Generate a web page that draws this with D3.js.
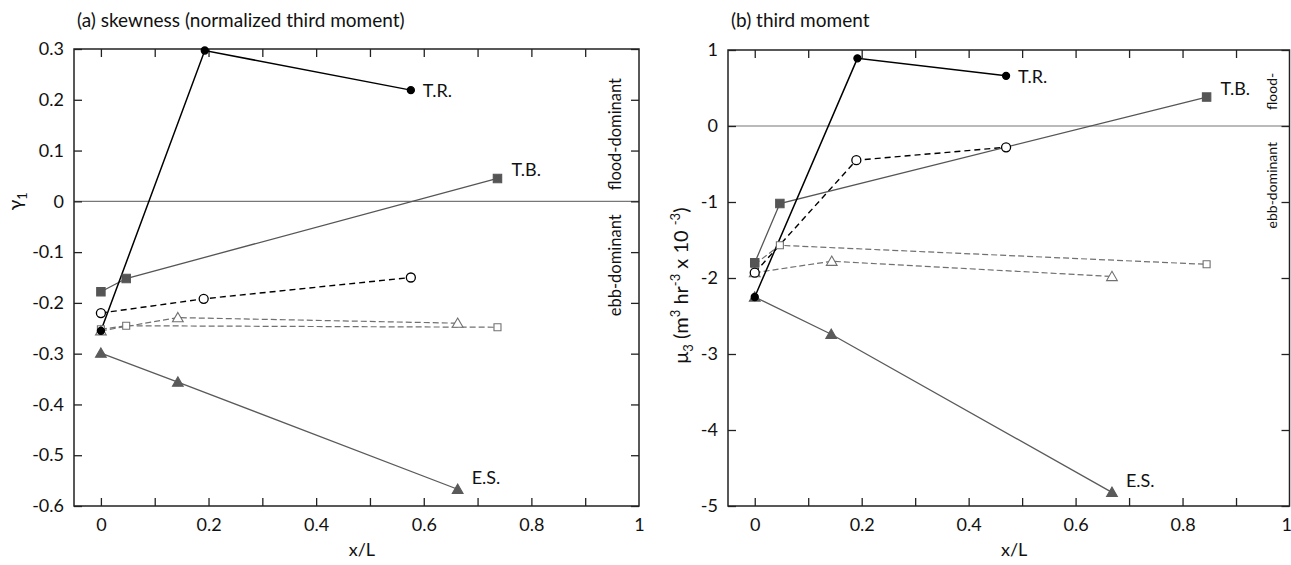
<!DOCTYPE html>
<html>
<head>
<meta charset="utf-8">
<script src="https://unpkg.com/d3@7/dist/d3.min.js"></script>
<style>
  body { margin: 0; background: #fff; }
  svg { display: block; font-family: Lato, "Open Sans", sans-serif; }
</style>
</head>
<body>
<script>
// station positions along the estuary (x/L) and values
// panel (a): skewness
const skewTR = [[0, -0.255], [0.193, 0.297], [0.576, 0.219]];
const skewTB = [[0, -0.178], [0.047, -0.152], [0.737, 0.045]];
const skewES = [[0, -0.299], [0.143, -0.356], [0.663, -0.567]];
const skewCircle = [[0, -0.220], [0.191, -0.192], [0.576, -0.150]];
const skewTri = [[0, -0.255], [0.143, -0.229], [0.663, -0.240]];
const skewSq = [[0, -0.252], [0.047, -0.245], [0.737, -0.248]];

// panel (b): third moment
const momTR = [[0, -2.25], [0.192, 0.89], [0.47, 0.66]];
const momTB = [[0, -1.80], [0.047, -1.02], [0.845, 0.38]];
const momES = [[0, -2.25], [0.143, -2.74], [0.668, -4.82]];
const momCircle = [[0, -1.93], [0.19, -0.45], [0.47, -0.28]];
const momTri = [[0, -1.93], [0.144, -1.78], [0.668, -1.98]];
const momSq = [[0, -1.82], [0.047, -1.57], [0.845, -1.82]];

const xTicks = [0, 0.1, 0.2, 0.3, 0.4, 0.5, 0.6, 0.7, 0.8, 0.9];
const xLabels = [0, 0.2, 0.4, 0.6, 0.8, 1];
const skewTicks = [0.3, 0.2, 0.1, 0, -0.1, -0.2, -0.3, -0.4, -0.5, -0.6];
const momTicks = [1, 0, -1, -2, -3, -4, -5];

const W = 1291, H = 565;
const svg = d3.select("body").append("svg").attr("width", W).attr("height", H);

// series styles
const styles = {
  TR: { stroke: "#000", width: 1.5, dash: null, mark: "circle", fill: "#000", r: 3.5 },
  TB: { stroke: "#555", width: 1.3, dash: null, mark: "square", fill: "#555", r: 4.2 },
  ES: { stroke: "#5a5a5a", width: 1.3, dash: null, mark: "triangle", fill: "#5a5a5a", r: 0 },
  circle: { stroke: "#000", width: 1.4, dash: "6,4", mark: "circle", fill: "#fff", r: 4.5 },
  tri: { stroke: "#707070", width: 1.2, dash: "6,3", mark: "triangle", fill: "#fff", r: 0 },
  sq: { stroke: "#707070", width: 1.2, dash: "6,3", mark: "square", fill: "#fff", r: 3.5 }
};

const fmt = (d) => String(+d.toFixed(2)).replace("\u2212", "-");

function panel(opt) {
  const x = d3.scaleLinear().domain([-0.05, 1.0]).range(opt.xr);
  const y = d3.scaleLinear().domain(opt.yd).range(opt.yr);
  const g = svg.append("g");

  // zero line
  g.append("line")
    .attr("x1", opt.xr[0]).attr("x2", opt.xr[1])
    .attr("y1", y(0)).attr("y2", y(0))
    .attr("stroke", "#777").attr("stroke-width", 1.2);

  // axes with inward ticks
  g.append("g")
    .attr("transform", `translate(0,${opt.yr[0]})`)
    .call(d3.axisBottom(x).tickValues(xTicks).tickSize(-8).tickFormat(""));
  const xl = g.append("g")
    .attr("transform", `translate(0,${opt.yr[0]})`)
    .call(d3.axisBottom(x).tickValues(xLabels).tickSize(0).tickPadding(12).tickFormat(fmt));
  if (opt.xr[1] > W - 5) {
    // keep the last label inside the page
    xl.selectAll(".tick text").filter((d) => d === 1).attr("text-anchor", "end").attr("dx", 2);
  }
  g.append("g")
    .attr("transform", `translate(0,${opt.yr[1]})`)
    .call(d3.axisTop(x).tickValues(xTicks).tickSize(-8).tickFormat(""));
  g.append("g")
    .attr("transform", `translate(${opt.xr[0]},0)`)
    .call(d3.axisLeft(y).tickValues(opt.yTicks).tickSize(-8).tickPadding(10).tickFormat(fmt));
  g.append("g")
    .attr("transform", `translate(${opt.xr[1]},0)`)
    .call(d3.axisRight(y).tickValues(opt.yTicks).tickSize(-8).tickFormat(""));

  g.selectAll(".domain").remove();
  g.selectAll(".tick line").attr("stroke", "#222").attr("stroke-width", 1.3);
  g.selectAll(".tick text").attr("font-size", 18).attr("fill", "#111")
    .attr("font-family", "Lato, sans-serif");

  g.append("rect")
    .attr("x", opt.xr[0]).attr("y", opt.yr[1])
    .attr("width", opt.xr[1] - opt.xr[0]).attr("height", opt.yr[0] - opt.yr[1])
    .attr("fill", "none").attr("stroke", "#222").attr("stroke-width", 1.5);

  const line = d3.line().x((d) => x(d[0])).y((d) => y(d[1]));

  // draw order: dashed first, solid on top
  const order = ["sq", "tri", "circle", "ES", "TB", "TR"];
  order.forEach((k) => {
    const s = styles[k];
    g.append("path").datum(opt.series[k]).attr("d", line)
      .attr("fill", "none").attr("stroke", s.stroke)
      .attr("stroke-width", s.width)
      .attr("stroke-dasharray", s.dash);
  });
  order.forEach((k) => {
    const s = styles[k];
    const sym = s.mark === "circle" ? null
      : d3.symbol().type(s.mark === "square" ? d3.symbolSquare : d3.symbolTriangle)
          .size(s.mark === "square" ? (2 * s.r) * (2 * s.r) : 50);
    opt.series[k].forEach((d) => {
      if (s.mark === "circle") {
        g.append("circle").attr("cx", x(d[0])).attr("cy", y(d[1])).attr("r", s.r)
          .attr("fill", s.fill).attr("stroke", s.stroke).attr("stroke-width", 1.3);
      } else {
        g.append("path").attr("d", sym)
          .attr("transform", `translate(${x(d[0])},${y(d[1]) + (s.mark === "triangle" ? 1 : 0)})`)
          .attr("fill", s.fill).attr("stroke", s.stroke).attr("stroke-width", 1.1);
      }
    });
  });

  // station labels next to the last point
  [["TR", "T.R.", 12, 7], ["TB", "T.B.", 14, -2], ["ES", "E.S.", 14, -5]].forEach(([k, t, dx, dy]) => {
    const last = opt.series[k][opt.series[k].length - 1];
    g.append("text").attr("x", x(last[0]) + dx).attr("y", y(last[1]) + dy)
      .attr("font-size", 18).attr("fill", "#111").text(t);
  });

  // x-axis title
  g.append("text")
    .attr("x", x(0.5) - 8).attr("y", 556)
    .attr("text-anchor", "middle").attr("font-size", 18).attr("fill", "#111")
    .text("x/L");

  // panel title
  g.append("text").attr("x", opt.xr[0] + 3).attr("y", 27)
    .attr("font-size", 19).attr("fill", "#111").text(opt.title);

  return { x, y, g };
}

const a = panel({
  xr: [74, 639], yd: [-0.6, 0.3], yr: [506, 49], yTicks: skewTicks,
  title: "(a) skewness (normalized third moment)",
  series: { TR: skewTR, TB: skewTB, ES: skewES, circle: skewCircle, tri: skewTri, sq: skewSq }
});

const b = panel({
  xr: [728, 1289.5], yd: [-5, 1], yr: [506, 50], yTicks: momTicks,
  title: "(b) third moment",
  series: { TR: momTR, TB: momTB, ES: momES, circle: momCircle, tri: momTri, sq: momSq }
});

// y-axis titles
const ya = svg.append("text")
  .attr("transform", `translate(22,${a.y(0)}) rotate(-90)`)
  .attr("text-anchor", "middle").attr("font-size", 20).attr("fill", "#111");
ya.append("tspan").text("\u03b3");
ya.append("tspan").attr("dy", 5).attr("font-size", 13).text("1");

const yb = svg.append("text")
  .attr("transform", `translate(688,${b.y(-2.1)}) rotate(-90)`)
  .attr("text-anchor", "middle").attr("font-size", 20).attr("fill", "#111");
yb.append("tspan").text("\u03bc");
yb.append("tspan").attr("dy", 5).attr("font-size", 13).text("3");
yb.append("tspan").attr("dy", -5).text(" (m");
yb.append("tspan").attr("dy", -8).attr("font-size", 13).text("3");
yb.append("tspan").attr("dy", 8).text(" hr");
yb.append("tspan").attr("dy", -8).attr("font-size", 13).text("-3");
yb.append("tspan").attr("dy", 8).text(" x 10 ");
yb.append("tspan").attr("dy", -8).attr("font-size", 13).text("-3");
yb.append("tspan").attr("dy", 8).text(")");

// flood / ebb annotations
function sideText(xp, yp, anchor, t, size) {
  svg.append("text")
    .attr("transform", `translate(${xp},${yp}) rotate(-90)`)
    .attr("text-anchor", anchor).attr("font-size", size).attr("fill", "#111")
    .text(t);
}
sideText(621, a.y(0) - 11, "start", "flood-dominant", 16.5);
sideText(621, a.y(0) + 13, "end", "ebb-dominant", 16.5);
sideText(1277, b.y(0) - 16, "start", "flood-", 14);
sideText(1277, b.y(0) + 16, "end", "ebb-dominant", 14);
</script>
</body>
</html>
